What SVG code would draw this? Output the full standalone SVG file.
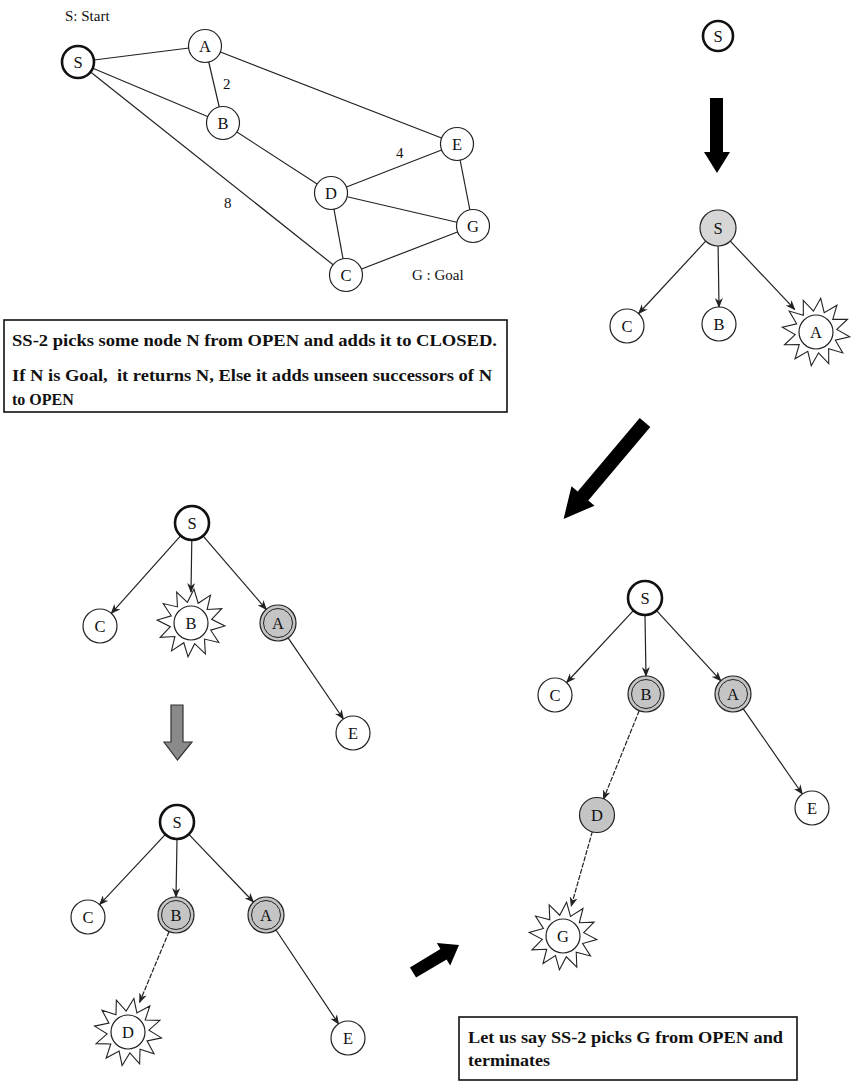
<svg xmlns="http://www.w3.org/2000/svg" xmlns:xlink="http://www.w3.org/1999/xlink" width="853" height="1081" viewBox="0 0 853 1081">
<style>
.n{fill:#fff;stroke:#222;stroke-width:1.2}
.s{fill:#fff;stroke:#111;stroke-width:2.6}
.g{fill:#c4c4c4;stroke:#222;stroke-width:1.2}
.gi{fill:none;stroke:#222;stroke-width:1}
.t{font-family:"Liberation Serif",serif;font-size:16.5px;fill:#111;text-anchor:middle}
.lbl{font-family:"Liberation Serif",serif;font-size:15px;fill:#111}
.e{stroke:#222;stroke-width:1.2;fill:none}
.a{stroke:#222;stroke-width:1.2;fill:none;marker-end:url(#ah)}
.d{stroke:#222;stroke-width:1.2;fill:none;stroke-dasharray:5 1.5;marker-end:url(#ah)}
.star{fill:#fff;stroke:#222;stroke-width:1.1}
.box{fill:#fff;stroke:#111;stroke-width:1.6}
.bt{font-family:"Liberation Serif",serif;font-size:16px;font-weight:bold;fill:#111}
</style>
<defs>
<marker id="ah" markerWidth="10" markerHeight="8" refX="9" refY="4" orient="auto" markerUnits="userSpaceOnUse">
<path d="M0,0 L10,4 L0,8 L3,4 Z" fill="#222"/>
</marker>
<polygon id="star" class="star" points="0,-34 5.44,-20.28 17,-29.44 14.85,-14.85 29.44,-17 20.28,-5.44 34,0 20.28,5.44 29.44,17 14.85,14.85 17,29.44 5.44,20.28 0,34 -5.44,20.28 -17,29.44 -14.85,14.85 -29.44,17 -20.28,5.44 -34,0 -20.28,-5.44 -29.44,-17 -14.85,-14.85 -17,-29.44 -5.44,-20.28"/>
</defs>
<rect width="853" height="1081" fill="#fff"/>

<!-- Top-left graph -->
<g id="graph-edges">
<line class="e" x1="78" y1="62" x2="205" y2="46"/>
<line class="e" x1="78" y1="62" x2="223" y2="123"/>
<line class="e" x1="78" y1="62" x2="346" y2="275"/>
<line class="e" x1="205" y1="46" x2="223" y2="123"/>
<line class="e" x1="205" y1="46" x2="457" y2="144"/>
<line class="e" x1="223" y1="123" x2="331" y2="193"/>
<line class="e" x1="331" y1="193" x2="457" y2="144"/>
<line class="e" x1="331" y1="193" x2="473" y2="226"/>
<line class="e" x1="331" y1="193" x2="346" y2="275"/>
<line class="e" x1="457" y1="144" x2="473" y2="226"/>
<line class="e" x1="346" y1="275" x2="473" y2="226"/>
</g>
<text class="lbl" x="65" y="21">S: Start</text>
<text class="lbl" x="223" y="89">2</text>
<text class="lbl" x="396" y="158">4</text>
<text class="lbl" x="224" y="208">8</text>
<text class="lbl" x="412" y="280">G : Goal</text>
<g id="g-S"><circle class="s" cx="78" cy="62" r="16"/><text class="t" x="78" y="68">S</text></g>
<g id="g-A"><circle class="n" cx="205" cy="46" r="16.5"/><text class="t" x="205" y="52">A</text></g>
<g id="g-B"><circle class="n" cx="223" cy="123" r="16.5"/><text class="t" x="223" y="129">B</text></g>
<g id="g-E"><circle class="n" cx="457" cy="144" r="16.5"/><text class="t" x="457" y="150">E</text></g>
<g id="g-D"><circle class="n" cx="331" cy="193" r="16.5"/><text class="t" x="331" y="199">D</text></g>
<g id="g-G"><circle class="n" cx="473" cy="226" r="16.5"/><text class="t" x="473" y="232">G</text></g>
<g id="g-C"><circle class="n" cx="346" cy="275" r="16.5"/><text class="t" x="346" y="281">C</text></g>

<!-- Box 1 -->
<g id="box1">
<rect class="box" x="4" y="320" width="503" height="92"/>
<text class="bt" x="12" y="346" textLength="485" lengthAdjust="spacingAndGlyphs">SS-2 picks some node N from OPEN and adds it to CLOSED.</text>
<text class="bt" x="12" y="381" textLength="480" lengthAdjust="spacingAndGlyphs" xml:space="preserve">If N is Goal,  it returns N, Else it adds unseen successors of N</text>
<text class="bt" x="12" y="405">to OPEN</text>
</g>

<!-- Big arrows -->
<g id="arrows-big">
<polygon fill="#000" points="710,98 723,98 723,152 730,152 717,173 704,152 710,152"/>
<polygon fill="#000" points="650.3,427 639.7,418 577.7,491.5 571.5,486.3 563.6,518.9 594.5,505.7 588.3,500.5"/>
<polygon fill="#8a8a8a" stroke="#333" stroke-width="1.2" points="171,705 183,705 183,742 192,742 177.5,760 164,742 171,742"/>
<polygon fill="#000" points="416.1,977.6 409.9,967.4 440.4,949 436.8,943 459,945 450.2,965.4 446.6,959.4"/>
</g>

<!-- Top-right single S -->
<g id="t0-S"><circle class="s" cx="718" cy="36" r="15"/><text class="t" x="718" y="42">S</text></g>

<!-- Tree 1 -->
<g id="tree1-edges">
<line class="a" x1="705.7" y1="241.2" x2="638.6" y2="313.5"/>
<line class="a" x1="718.1" y1="246" x2="719" y2="307"/>
<line class="a" x1="730.3" y1="241.1" x2="794.7" y2="309.4"/>
</g>
<g id="t1-S"><circle cx="718" cy="228" r="18" fill="#d6d6d6" stroke="#222" stroke-width="1.2"/><text class="t" x="718" y="234">S</text></g>
<g id="t1-C"><circle class="n" cx="627" cy="326" r="17"/><text class="t" x="627" y="332">C</text></g>
<g id="t1-B"><circle class="n" cx="719" cy="324" r="17"/><text class="t" x="719" y="330">B</text></g>
<g id="t1-A"><use xlink:href="#star" href="#star" transform="translate(816,332) rotate(8)"/><circle class="n" cx="816" cy="332" r="17"/><text class="t" x="816" y="338">A</text></g>

<!-- Tree 2 -->
<g id="tree2-edges">
<line class="a" x1="180.3" y1="536.1" x2="111.3" y2="613.3"/>
<line class="a" x1="191.8" y1="540.5" x2="191" y2="592"/>
<line class="a" x1="203.4" y1="536.3" x2="266.3" y2="609.4"/>
<line class="a" x1="288.1" y1="637.9" x2="343.4" y2="719"/>
</g>
<g id="t2-S"><circle class="s" cx="192" cy="523" r="17"/><text class="t" x="192" y="529">S</text></g>
<g id="t2-C"><circle class="n" cx="100" cy="626" r="17"/><text class="t" x="100" y="632">C</text></g>
<g id="t2-B"><use xlink:href="#star" href="#star" transform="translate(191,623) rotate(5)"/><circle class="n" cx="191" cy="623" r="17"/><text class="t" x="191" y="629">B</text></g>
<g id="t2-A"><circle class="g" cx="278" cy="623" r="18"/><circle class="gi" cx="278" cy="623" r="14.5"/><text class="t" x="278" y="629">A</text></g>
<g id="t2-E"><circle class="n" cx="353" cy="733" r="17"/><text class="t" x="353" y="739">E</text></g>

<!-- Tree 3 -->
<g id="tree3-edges">
<line class="a" x1="165.4" y1="834.4" x2="99.6" y2="904.6"/>
<line class="a" x1="177" y1="839.5" x2="176" y2="897"/>
<line class="a" x1="189.1" y1="834.6" x2="253.5" y2="902"/>
<line class="d" x1="169.1" y1="931.6" x2="139.6" y2="1002.3"/>
<line class="a" x1="276" y1="930" x2="338.6" y2="1023.9"/>
</g>
<g id="t3-S"><circle class="s" cx="177" cy="822" r="17"/><text class="t" x="177" y="828">S</text></g>
<g id="t3-C"><circle class="n" cx="88" cy="917" r="17"/><text class="t" x="88" y="923">C</text></g>
<g id="t3-B"><circle class="g" cx="176" cy="915" r="18"/><circle class="gi" cx="176" cy="915" r="14.5"/><text class="t" x="176" y="921">B</text></g>
<g id="t3-A"><circle class="g" cx="266" cy="915" r="18"/><circle class="gi" cx="266" cy="915" r="14.5"/><text class="t" x="266" y="921">A</text></g>
<g id="t3-D"><use xlink:href="#star" href="#star" transform="translate(128,1032) rotate(10)"/><circle class="n" cx="128" cy="1032" r="17"/><text class="t" x="128" y="1038">D</text></g>
<g id="t3-E"><circle class="n" cx="348" cy="1038" r="17"/><text class="t" x="348" y="1044">E</text></g>

<!-- Tree 4 -->
<g id="tree4-edges">
<line class="a" x1="633.1" y1="610.8" x2="566.6" y2="682.5"/>
<line class="a" x1="645" y1="615.5" x2="646" y2="676"/>
<line class="a" x1="656.8" y1="610.9" x2="720.8" y2="680.7"/>
<line class="d" x1="639.2" y1="710.7" x2="603.4" y2="799.2"/>
<line class="a" x1="743.3" y1="708.8" x2="802.3" y2="794"/>
<line class="d" x1="592.4" y1="831.4" x2="571.2" y2="906.1"/>
</g>
<g id="t4-S"><circle class="s" cx="645" cy="598" r="17"/><text class="t" x="645" y="604">S</text></g>
<g id="t4-C"><circle class="n" cx="555" cy="695" r="17"/><text class="t" x="555" y="701">C</text></g>
<g id="t4-B"><circle class="g" cx="646" cy="694" r="18"/><circle class="gi" cx="646" cy="694" r="14.5"/><text class="t" x="646" y="700">B</text></g>
<g id="t4-A"><circle class="g" cx="733" cy="694" r="18"/><circle class="gi" cx="733" cy="694" r="14.5"/><text class="t" x="733" y="700">A</text></g>
<g id="t4-D"><circle class="g" cx="597" cy="815" r="17.5"/><text class="t" x="597" y="821">D</text></g>
<g id="t4-E"><circle class="n" cx="812" cy="808" r="17"/><text class="t" x="812" y="814">E</text></g>
<g id="t4-G"><use xlink:href="#star" href="#star" transform="translate(563,936) rotate(6)"/><circle class="n" cx="563" cy="936" r="17"/><text class="t" x="563" y="942">G</text></g>

<!-- Box 2 -->
<g id="box2">
<rect class="box" x="459" y="1017" width="338" height="63"/>
<text class="bt" x="468" y="1043" textLength="315" lengthAdjust="spacingAndGlyphs">Let us say SS-2 picks G from OPEN and</text>
<text class="bt" x="468" y="1066" textLength="82" lengthAdjust="spacingAndGlyphs">terminates</text>
</g>
</svg>
